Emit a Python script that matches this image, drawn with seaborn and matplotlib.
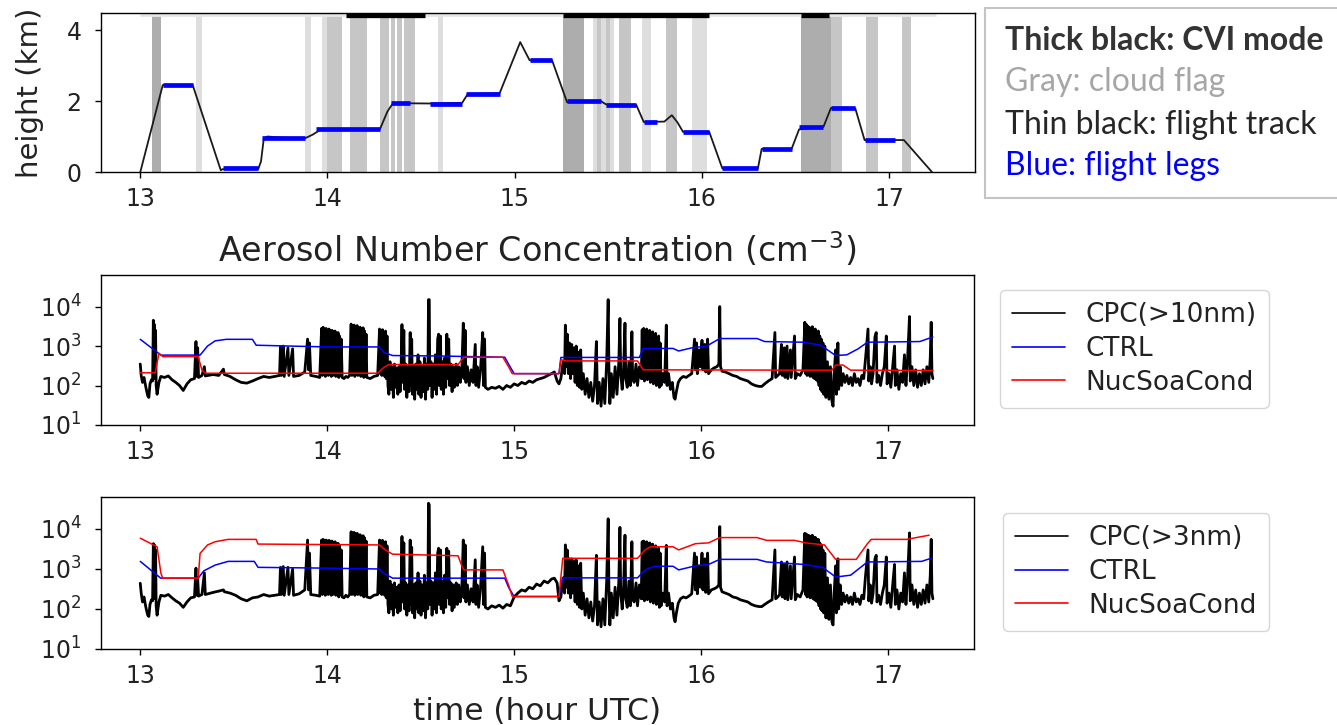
import numpy as np
import pandas as pd
import matplotlib
matplotlib.use("Agg")
import matplotlib.pyplot as plt
from matplotlib.patches import Rectangle
from matplotlib.ticker import NullLocator, FixedLocator
import seaborn as sns

# ---------------- data ----------------
# flight track (hour UTC, km)
track_t = [13.00, 13.12, 13.28, 13.43, 13.44, 13.63, 13.645, 13.66, 13.68, 13.75, 13.88, 13.92, 13.96,
           14.28, 14.32, 14.35, 14.55, 14.72, 14.75, 14.92, 15.03, 15.08, 15.20, 15.28, 15.46, 15.49,
           15.65, 15.69, 15.80, 15.84, 15.87, 15.90, 16.04, 16.11, 16.30, 16.32, 16.48, 16.52, 16.65,
           16.69, 16.82, 16.87, 17.08, 17.23]
track_h = [0.00, 2.45, 2.45, 0.05, 0.08, 0.08, 0.30, 0.95, 1.00, 0.97, 0.95, 1.05, 1.18,
           1.20, 1.70, 1.94, 1.93, 1.95, 2.20, 2.22, 3.66, 3.15, 3.15, 1.97, 2.00, 1.90,
           1.89, 1.41, 1.42, 1.60, 1.40, 1.13, 1.13, 0.10, 0.10, 0.65, 0.65, 1.20, 1.27,
           1.80, 1.80, 0.90, 0.90, 0.00]

# flight legs: start, end, height
leg_start = [13.12, 13.44, 13.65, 13.94, 14.34, 14.55, 14.74, 15.08, 15.28, 15.49, 15.69, 15.90, 16.11, 16.32, 16.52, 16.69, 16.87]
leg_end   = [13.28, 13.63, 13.88, 14.28, 14.44, 14.72, 14.92, 15.20, 15.46, 15.65, 15.76, 16.04, 16.30, 16.48, 16.65, 16.82, 17.03]
leg_h     = [2.46, 0.10, 0.96, 1.20, 1.95, 1.93, 2.21, 3.15, 1.99, 1.89, 1.41, 1.13, 0.10, 0.65, 1.27, 1.80, 0.90]

# CVI mode periods
cvi_start = [14.10, 15.26, 16.53]
cvi_end   = [14.52, 16.04, 16.68]

# cloud flag periods (start, end, shade level 0=light,1=medium,2=dark)
cloud_start = [13.06, 13.30, 13.88, 13.97, 14.00, 14.12, 14.28, 14.34, 14.37, 14.41, 14.59,
               15.26, 15.42, 15.44, 15.49, 15.56, 15.68, 15.81, 15.95, 16.53, 16.69, 16.88, 17.07]
cloud_end   = [13.11, 13.33, 13.91, 14.00, 14.08, 14.21, 14.33, 14.36, 14.40, 14.47, 14.62,
               15.37, 15.53, 15.46, 15.51, 15.62, 15.73, 15.87, 16.03, 16.69, 16.75, 16.94, 17.12]
cloud_lvl   = [2, 0, 0, 0, 1, 1, 1, 1, 1, 1, 0,
               2, 0, 1, 1, 1, 0, 1, 0, 2, 1, 1, 1]

# CPC observations (time, >10nm, >3nm) in cm-3
cpc_time = [
    13.000, 13.005, 13.012, 13.020, 13.030, 13.040, 13.046, 13.052, 13.060, 13.066,
    13.070, 13.073, 13.076, 13.079, 13.082, 13.085, 13.090, 13.100, 13.110, 13.130,
    13.150, 13.170, 13.190, 13.210, 13.230, 13.250, 13.270, 13.290, 13.298, 13.303,
    13.307, 13.312, 13.330, 13.343, 13.348, 13.390, 13.420, 13.445, 13.450, 13.480,
    13.510, 13.540, 13.570, 13.600, 13.630, 13.660, 13.690, 13.720, 13.745, 13.750,
    13.755, 13.765, 13.770, 13.790, 13.795, 13.815, 13.820, 13.850, 13.880, 13.895,
    13.900, 13.905, 13.912, 13.940, 13.960, 13.970, 13.974, 13.978, 13.982, 13.986,
    13.990, 13.994, 13.998, 14.002, 14.006, 14.010, 14.014, 14.018, 14.022, 14.026,
    14.030, 14.034, 14.038, 14.042, 14.046, 14.050, 14.054, 14.058, 14.062, 14.066,
    14.070, 14.075, 14.080, 14.090, 14.100, 14.110, 14.120, 14.128, 14.132, 14.136,
    14.140, 14.144, 14.148, 14.152, 14.156, 14.160, 14.164, 14.168, 14.172, 14.176,
    14.180, 14.184, 14.188, 14.192, 14.196, 14.200, 14.204, 14.208, 14.212, 14.230,
    14.250, 14.270, 14.280, 14.284, 14.288, 14.292, 14.296, 14.300, 14.304, 14.308,
    14.312, 14.316, 14.320, 14.325, 14.330, 14.336, 14.342, 14.348, 14.354, 14.360,
    14.366, 14.372, 14.378, 14.384, 14.390, 14.396, 14.400, 14.404, 14.410, 14.414,
    14.420, 14.426, 14.432, 14.438, 14.444, 14.448, 14.452, 14.456, 14.462, 14.468,
    14.474, 14.480, 14.486, 14.490, 14.496, 14.502, 14.508, 14.514, 14.520, 14.526,
    14.532, 14.538, 14.542, 14.546, 14.549, 14.555, 14.561, 14.567, 14.573, 14.579,
    14.585, 14.591, 14.596, 14.600, 14.606, 14.610, 14.616, 14.622, 14.628, 14.634,
    14.640, 14.644, 14.650, 14.655, 14.662, 14.668, 14.674, 14.680, 14.690, 14.696,
    14.704, 14.712, 14.720, 14.728, 14.732, 14.738, 14.742, 14.750, 14.760, 14.770,
    14.780, 14.792, 14.796, 14.802, 14.810, 14.820, 14.832, 14.836, 14.842, 14.846,
    14.860, 14.880, 14.900, 14.920, 14.940, 14.960, 14.980, 15.000, 15.020, 15.040,
    15.060, 15.080, 15.100, 15.120, 15.140, 15.160, 15.180, 15.200, 15.215, 15.230,
    15.240, 15.250, 15.262, 15.270, 15.274, 15.278, 15.284, 15.290, 15.296, 15.302,
    15.308, 15.314, 15.320, 15.326, 15.332, 15.338, 15.344, 15.350, 15.356, 15.362,
    15.370, 15.380, 15.390, 15.400, 15.410, 15.420, 15.430, 15.440, 15.446, 15.455,
    15.465, 15.475, 15.485, 15.495, 15.503, 15.507, 15.512, 15.520, 15.530, 15.540,
    15.550, 15.560, 15.566, 15.570, 15.578, 15.586, 15.593, 15.597, 15.605, 15.614,
    15.622, 15.630, 15.634, 15.642, 15.652, 15.660, 15.670, 15.680, 15.685, 15.689,
    15.693, 15.697, 15.701, 15.705, 15.709, 15.713, 15.717, 15.721, 15.725, 15.729,
    15.733, 15.737, 15.741, 15.745, 15.749, 15.753, 15.757, 15.761, 15.765, 15.769,
    15.773, 15.777, 15.781, 15.786, 15.795, 15.805, 15.814, 15.818, 15.826, 15.836,
    15.846, 15.855, 15.861, 15.868, 15.878, 15.890, 15.905, 15.920, 15.935, 15.950,
    15.965, 15.969, 15.976, 15.980, 15.990, 15.996, 16.005, 16.010, 16.020, 16.025,
    16.035, 16.040, 16.055, 16.070, 16.085, 16.095, 16.100, 16.104, 16.112, 16.130,
    16.150, 16.170, 16.190, 16.210, 16.230, 16.250, 16.270, 16.290, 16.310, 16.325,
    16.340, 16.360, 16.380, 16.395, 16.399, 16.410, 16.420, 16.430, 16.434, 16.445,
    16.449, 16.460, 16.464, 16.478, 16.482, 16.500, 16.504, 16.515, 16.530, 16.545,
    16.555, 16.559, 16.563, 16.567, 16.571, 16.575, 16.579, 16.583, 16.587, 16.591,
    16.595, 16.599, 16.603, 16.607, 16.611, 16.615, 16.619, 16.623, 16.627, 16.631,
    16.635, 16.639, 16.643, 16.647, 16.652, 16.656, 16.662, 16.668, 16.676, 16.684,
    16.692, 16.700, 16.706, 16.712, 16.720, 16.724, 16.732, 16.736, 16.744, 16.752,
    16.760, 16.770, 16.780, 16.790, 16.800, 16.810, 16.820, 16.830, 16.840, 16.850,
    16.860, 16.870, 16.880, 16.893, 16.897, 16.905, 16.912, 16.920, 16.930, 16.937,
    16.941, 16.950, 16.960, 16.970, 16.980, 16.991, 16.995, 17.005, 17.015, 17.025,
    17.035, 17.039, 17.048, 17.058, 17.068, 17.078, 17.088, 17.096, 17.104, 17.115,
    17.119, 17.128, 17.138, 17.148, 17.158, 17.168, 17.178, 17.188, 17.198, 17.208,
    17.218, 17.226, 17.231, 17.235, 17.240]

cpc10 = [
    350, 180, 120, 160, 90, 55, 50, 110, 140, 130,
    4500, 150, 3500, 200, 2500, 100, 60, 120, 170, 160,
    175, 140, 120, 100, 75, 110, 140, 150, 1300, 170,
    900, 160, 180, 300, 175, 190, 180, 260, 190, 170,
    140, 120, 115, 130, 150, 170, 160, 170, 180, 950,
    180, 1000, 170, 900, 180, 850, 170, 180, 220, 1500,
    250, 1200, 180, 170, 160, 2800, 180, 3000, 200, 2600,
    170, 2800, 190, 2500, 180, 2700, 200, 2400, 170, 2500,
    180, 2300, 200, 2400, 170, 2100, 180, 2200, 160, 1800,
    180, 1500, 160, 150, 170, 160, 180, 3600, 180, 3200,
    200, 3400, 170, 3000, 190, 3300, 180, 2800, 200, 3000,
    170, 2600, 180, 2900, 160, 2400, 170, 2000, 160, 150,
    170, 180, 2700, 200, 2500, 180, 2600, 190, 2200, 170,
    2400, 150, 1800, 100, 60, 400, 80, 300, 50, 350,
    90, 280, 60, 300, 70, 400, 3500, 120, 2500, 80,
    350, 50, 300, 70, 2200, 100, 1500, 60, 300, 45,
    350, 80, 600, 60, 400, 50, 300, 70, 500, 45,
    350, 80, 15000, 15000, 100, 400, 50, 350, 80, 600,
    60, 1500, 2000, 100, 1800, 80, 400, 60, 500, 90,
    2000, 150, 1500, 100, 350, 70, 300, 90, 350, 100,
    300, 120, 250, 3800, 150, 2500, 120, 300, 100, 250,
    120, 1100, 100, 300, 90, 250, 2200, 100, 1500, 90,
    80, 90, 85, 95, 80, 100, 90, 110, 100, 120,
    110, 130, 120, 140, 150, 160, 180, 200, 220, 130,
    110, 150, 400, 200, 3400, 300, 2000, 200, 1200, 150,
    1100, 200, 900, 120, 1000, 100, 700, 90, 800, 80,
    200, 60, 150, 50, 120, 40, 100, 1300, 35, 120,
    30, 150, 35, 400, 15000, 300, 35, 200, 50, 300,
    60, 400, 5000, 200, 80, 300, 3800, 150, 90, 400,
    100, 2300, 150, 120, 350, 100, 300, 150, 2600, 150,
    2800, 130, 2400, 160, 2700, 140, 2200, 150, 2500, 120,
    2000, 140, 2300, 110, 1800, 130, 2100, 100, 1500, 120,
    1800, 90, 1200, 100, 200, 120, 3400, 100, 200, 80,
    120, 50, 45, 70, 120, 150, 170, 160, 180, 200,
    1500, 250, 1200, 200, 800, 300, 1400, 250, 1100, 220,
    1500, 200, 250, 280, 300, 350, 10000, 300, 230, 220,
    200, 180, 170, 150, 140, 130, 110, 100, 95, 95,
    110, 130, 150, 2200, 160, 180, 200, 1100, 180, 900,
    160, 1000, 150, 800, 160, 1800, 150, 200, 180, 250,
    4000, 200, 3500, 180, 3200, 200, 3000, 170, 2800, 200,
    3100, 160, 2500, 150, 2700, 140, 2200, 130, 2400, 100,
    1800, 80, 1500, 70, 1200, 60, 1000, 50, 400, 45,
    300, 40, 30, 200, 800, 60, 1200, 80, 300, 100,
    200, 120, 180, 110, 160, 100, 200, 120, 150, 100,
    180, 150, 500, 2700, 130, 300, 110, 200, 1700, 2200,
    120, 180, 100, 200, 300, 1800, 110, 200, 90, 300,
    1000, 100, 250, 80, 200, 120, 600, 100, 400, 5600,
    130, 300, 100, 250, 90, 200, 100, 250, 110, 300,
    120, 500, 4000, 200, 150]

cpc3 = [
    440, 250, 150, 200, 110, 70, 65, 130, 170, 160,
    4300, 180, 4000, 250, 3000, 120, 70, 150, 220, 210,
    230, 190, 160, 140, 110, 150, 190, 200, 1050, 220,
    600, 210, 230, 800, 230, 260, 280, 300, 270, 250,
    220, 180, 160, 190, 200, 230, 210, 220, 230, 1100,
    230, 1150, 220, 1100, 230, 1000, 220, 240, 300, 5300,
    300, 2500, 230, 220, 210, 5300, 230, 5500, 250, 5000,
    220, 5300, 240, 5000, 230, 5200, 250, 4800, 220, 5000,
    230, 4600, 250, 4800, 220, 4200, 230, 4400, 200, 3800,
    230, 3000, 200, 190, 220, 200, 230, 8500, 230, 8000,
    250, 8200, 220, 7500, 240, 7800, 230, 7000, 250, 7200,
    220, 6500, 230, 6800, 200, 6000, 220, 5000, 200, 190,
    220, 230, 5300, 250, 5000, 230, 5200, 240, 4600, 220,
    4800, 190, 3800, 130, 80, 500, 100, 400, 70, 450,
    110, 350, 80, 400, 90, 500, 6500, 150, 4500, 100,
    450, 70, 400, 90, 5300, 130, 3500, 80, 400, 60,
    450, 100, 800, 80, 500, 70, 400, 90, 700, 60,
    450, 100, 44000, 40000, 130, 500, 70, 450, 100, 800,
    80, 2500, 3300, 130, 3000, 100, 500, 80, 700, 110,
    3300, 190, 2800, 130, 450, 90, 400, 110, 450, 130,
    400, 150, 320, 5300, 190, 4000, 150, 400, 130, 320,
    150, 1700, 130, 400, 110, 320, 3600, 130, 2500, 110,
    100, 120, 110, 125, 105, 130, 120, 200, 250, 300,
    280, 350, 320, 420, 380, 500, 450, 560, 590, 450,
    160, 200, 600, 250, 4000, 350, 3000, 250, 1800, 190,
    1800, 250, 1600, 150, 1700, 130, 1200, 110, 1400, 100,
    250, 70, 180, 60, 150, 50, 120, 2200, 40, 150,
    36, 180, 40, 500, 18000, 350, 40, 250, 60, 350,
    70, 500, 11000, 250, 100, 400, 7000, 180, 110, 500,
    120, 4800, 180, 150, 450, 120, 400, 180, 4800, 180,
    5000, 160, 4600, 190, 4800, 170, 4200, 180, 4500, 150,
    4000, 170, 4200, 140, 3500, 160, 3800, 130, 3000, 150,
    3300, 110, 2500, 120, 250, 150, 3900, 120, 250, 100,
    140, 60, 48, 80, 140, 180, 200, 190, 210, 240,
    2500, 300, 2000, 240, 1200, 350, 2500, 300, 1800, 260,
    2500, 240, 300, 320, 350, 400, 11500, 350, 270, 250,
    230, 200, 190, 170, 160, 150, 130, 120, 115, 115,
    130, 150, 170, 3000, 180, 200, 230, 1500, 200, 1300,
    180, 1500, 170, 1200, 180, 2000, 170, 230, 200, 300,
    7800, 230, 7500, 200, 7000, 230, 6800, 190, 6500, 230,
    7000, 180, 6000, 170, 6200, 160, 5500, 150, 5500, 120,
    4500, 100, 4000, 90, 3000, 80, 2500, 60, 600, 55,
    400, 48, 40, 250, 1200, 80, 1800, 100, 400, 130,
    250, 150, 220, 140, 200, 130, 250, 150, 180, 130,
    220, 180, 700, 3000, 160, 400, 140, 250, 1800, 2200,
    150, 220, 130, 250, 400, 2000, 140, 250, 110, 400,
    1300, 130, 300, 100, 250, 150, 800, 130, 500, 8000,
    160, 400, 130, 300, 110, 250, 130, 300, 140, 400,
    150, 700, 5500, 250, 180]

# model output, >10nm panel
ctrl10_t = [13.00, 13.09, 13.11, 13.32, 13.36, 13.40, 13.46, 13.60, 13.62, 13.80, 14.00, 14.28, 14.30,
            14.35, 14.60, 14.95, 14.97, 15.00, 15.24, 15.25, 15.67, 15.69, 15.85, 15.88, 15.95, 16.03,
            16.10, 16.30, 16.34, 16.55, 16.64, 16.72, 16.78, 16.84, 16.89, 17.17, 17.24]
ctrl10_v = [1480, 700, 590, 590, 1000, 1350, 1480, 1480, 1050, 1000, 950, 950, 700,
            575, 560, 520, 350, 200, 200, 515, 515, 870, 870, 750, 900, 1000,
            1550, 1550, 1300, 1250, 1050, 575, 600, 850, 1250, 1300, 1700]
nuc10_t = [13.00, 13.08, 13.10, 13.12, 13.31, 13.33, 13.35, 14.27, 14.30, 14.33, 14.70, 14.73, 14.94,
           14.97, 14.99, 15.24, 15.25, 15.28, 15.66, 15.69, 16.55, 16.70, 16.72, 16.76, 16.80, 17.24]
nuc10_v = [210, 210, 660, 540, 540, 245, 205, 205, 280, 340, 340, 520, 520,
           300, 200, 200, 450, 420, 420, 250, 245, 245, 330, 330, 245, 240]

# model output, >3nm panel
ctrl3_t = [13.00, 13.09, 13.11, 13.31, 13.34, 13.40, 13.47, 13.61, 13.63, 14.00, 14.28, 14.30, 14.35,
           14.95, 14.97, 15.00, 15.24, 15.26, 15.66, 15.70, 15.75, 15.85, 15.88, 15.97, 16.04, 16.10,
           16.30, 16.35, 16.55, 16.65, 16.72, 16.80, 16.89, 17.18, 17.23]
ctrl3_v = [1550, 700, 590, 590, 900, 1250, 1550, 1550, 1100, 1050, 1000, 800, 590,
           590, 350, 205, 205, 600, 600, 950, 1170, 1170, 950, 1200, 1300, 1740,
           1740, 1500, 1300, 1100, 630, 700, 1500, 1550, 1850]
nuc3_t = [13.00, 13.09, 13.11, 13.12, 13.31, 13.32, 13.36, 13.40, 13.47, 13.62, 13.63, 14.28, 14.31,
          14.35, 14.70, 14.72, 14.73, 14.94, 14.97, 14.99, 15.24, 15.26, 15.66, 15.70, 15.73, 15.85,
          15.88, 15.97, 16.04, 16.10, 16.30, 16.35, 16.50, 16.56, 16.66, 16.72, 16.83, 16.89, 16.91,
          17.10, 17.22]
nuc3_v = [5900, 3600, 800, 590, 590, 2460, 4000, 4800, 5500, 5500, 4200, 4000, 3000,
          2350, 2140, 1200, 950, 950, 400, 205, 205, 1850, 1850, 3000, 3600, 3600,
          3000, 4300, 4500, 6100, 6100, 5200, 5200, 4500, 4000, 1740, 1740, 4300, 5500,
          5500, 7000]

x_ticks = [13, 14, 15, 16, 17]

# ---------------- style ----------------
sns.set_theme(style="ticks")
plt.rcParams["font.family"] = ["DejaVu Sans"]
plt.rcParams["text.color"] = "#222222"
plt.rcParams["axes.labelcolor"] = "#222222"
plt.rcParams["axes.edgecolor"] = "black"
plt.rcParams["axes.linewidth"] = 1.0
plt.rcParams["xtick.color"] = "black"
plt.rcParams["ytick.color"] = "black"
plt.rcParams["xtick.labelcolor"] = "#222222"
plt.rcParams["ytick.labelcolor"] = "#222222"
plt.rcParams["xtick.major.size"] = 4
plt.rcParams["ytick.major.size"] = 4
plt.rcParams["xtick.major.width"] = 1.0
plt.rcParams["ytick.major.width"] = 1.0
plt.rcParams["xtick.major.pad"] = 7
plt.rcParams["ytick.major.pad"] = 10

fig = plt.figure(figsize=(13.37, 7.25), dpi=100)
W, H = 1337.0, 725.0

def axbox(l, t, r, b):
    return [l / W, 1 - b / H, (r - l) / W, (b - t) / H]

ax0 = fig.add_axes(axbox(101, 13, 975, 172))
ax1 = fig.add_axes(axbox(101, 275, 974, 425))
ax2 = fig.add_axes(axbox(101, 497, 974, 649))

XL = (12.79, 17.46)
TICK_FS = 17
LABEL_FS = 21

# ---- top panel ----
shade = {0: "#dedede", 1: "#c6c6c6", 2: "#adadad"}
for s, e, lv in zip(cloud_start, cloud_end, cloud_lvl):
    ax0.axvspan(s, e, color=shade[lv], lw=0, zorder=1)
ax0.hlines(4.43, 13.0, 17.25, color="#e6e6e6", lw=2.0, zorder=2)
ax0.hlines([4.42] * len(cvi_start), cvi_start, cvi_end, color="black", lw=3.8, zorder=3)
track = pd.DataFrame({"t": track_t, "h": track_h})
sns.lineplot(data=track, x="t", y="h", ax=ax0, color="#1a1a1a", lw=1.3,
             estimator=None, sort=False, zorder=4)
ax0.hlines(leg_h, leg_start, leg_end, color="#0000ff", lw=3.4, zorder=5)
ax0.set_xlim(*XL)
ax0.set_ylim(0, 4.48)
ax0.set_yticks([0, 2, 4])
ax0.set_xticks(x_ticks)
ax0.set_xlabel("")
ax0.set_ylabel("height (km)", fontsize=LABEL_FS, labelpad=16)
ax0.tick_params(labelsize=TICK_FS)

# ---- aerosol panels ----
def aerosol_panel(ax, obs, ctrl_t, ctrl_v, nuc_t, nuc_v, obs_label):
    dfo = pd.DataFrame({"t": cpc_time, "n": obs})
    dfc = pd.DataFrame({"t": ctrl_t, "n": ctrl_v})
    dfn = pd.DataFrame({"t": nuc_t, "n": nuc_v})
    sns.lineplot(data=dfo, x="t", y="n", ax=ax, color="black", lw=2.0,
                 estimator=None, sort=False, label=obs_label, zorder=2)
    sns.lineplot(data=dfc, x="t", y="n", ax=ax, color="#0000ff", lw=1.1,
                 estimator=None, sort=False, label="CTRL", zorder=3)
    sns.lineplot(data=dfn, x="t", y="n", ax=ax, color="#ff0000", lw=1.1,
                 estimator=None, sort=False, label="NucSoaCond", zorder=4)
    ax.set_yscale("log")
    ax.set_ylim(10, 10 ** 4.8)
    ax.yaxis.set_major_locator(FixedLocator([10, 100, 1000, 10000]))
    ax.yaxis.set_minor_locator(NullLocator())
    ax.set_xlim(*XL)
    ax.set_xticks(x_ticks)
    ax.set_xlabel("")
    ax.set_ylabel("")
    ax.tick_params(labelsize=TICK_FS)

assert len(cpc_time) == len(cpc10) == len(cpc3)

aerosol_panel(ax1, cpc10, ctrl10_t, ctrl10_v, nuc10_t, nuc10_v, "CPC(>10nm)")
aerosol_panel(ax2, cpc3, ctrl3_t, ctrl3_v, nuc3_t, nuc3_v, "CPC(>3nm)")

ax1.set_title("Aerosol Number Concentration (cm$^{-3}$)", fontsize=24, pad=9)
ax2.set_xlabel("time (hour UTC)", fontsize=22.5, labelpad=6)

for ax, (lx, ty) in ((ax1, (1000, 290)), (ax2, (1003, 513))):
    leg = ax.legend(loc="upper left", bbox_to_anchor=(lx / W, 1 - ty / H),
                    bbox_transform=fig.transFigure, borderaxespad=0,
                    fontsize=19, frameon=True, handlelength=2.0,
                    labelspacing=0.3, borderpad=0.45, handletextpad=0.8)
    for ln in leg.get_lines():
        ln.set_linewidth(1.2)

# ---- annotation box (top right) ----
fig.patches.append(Rectangle((985 / W, 1 - 198 / H), (1340 - 985) / W, 190 / H,
                             transform=fig.transFigure, facecolor="white",
                             edgecolor="#c4c4c4", lw=1.5, zorder=0))
box_lines = ["Thick black: CVI mode", "Gray: cloud flag", "Thin black: flight track", "Blue: flight legs"]
box_colors = ["#333333", "#a6a6a6", "#262626", "#0000ff"]
box_weights = ["bold", "normal", "normal", "normal"]
box_y = [40, 82, 125, 166]
for txt, c, w, y in zip(box_lines, box_colors, box_weights, box_y):
    fig.text(1005 / W, 1 - y / H, txt, color=c, fontweight=w, fontsize=23,
             family=["Lato", "DejaVu Sans"], va="center", ha="left")

fig.savefig("out.png", dpi=100)
